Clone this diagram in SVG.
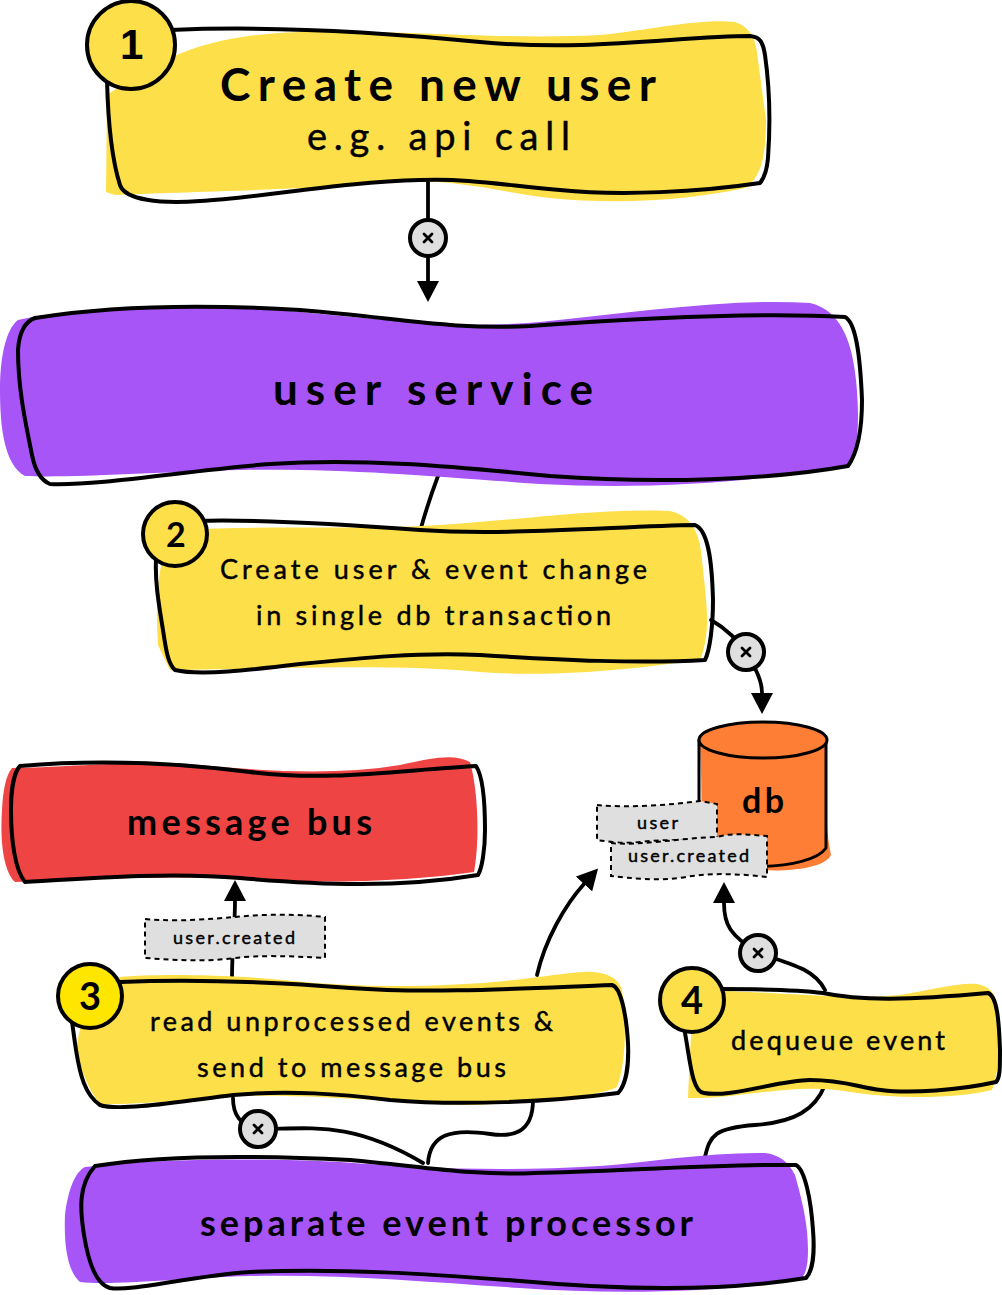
<svg xmlns="http://www.w3.org/2000/svg" width="1002" height="1295" viewBox="0 0 1002 1295">
<style>
text{font-family:"Lato","Noto Sans",sans-serif;fill:#000;text-anchor:start}
.b{font-weight:700}
.m{stroke:#000;stroke-width:.45}
.ol{fill:none;stroke:#000;stroke-width:4;stroke-linecap:round;stroke-linejoin:round}
.y{fill:#fddf49}.p{fill:#a855f7}.r{fill:#ef4444}.o{fill:#fe7e35}
.c{fill:none;stroke:#000;stroke-width:3.8;stroke-linecap:round}
.x{fill:#dfdfdf;stroke:#000;stroke-width:4}
.xm{stroke:#000;stroke-width:2.8;stroke-linecap:round}
.tag{fill:#dfdfdf;stroke:#000;stroke-width:2;stroke-dasharray:5 4}
.num{fill:#fddf49;stroke:#000;stroke-width:4}
</style>
<defs><marker id="a" markerWidth="22" markerHeight="22" refX="0" refY="11" orient="auto" markerUnits="userSpaceOnUse"><path d="M0,0L21,11L0,22Z"/></marker></defs>
<g id="connectors">
<path class="c" d="M428,182V281" marker-end="url(#a)"/>
<path class="c" d="M438,476C432,492 426,510 421,528"/>
<path class="c" d="M711,620C725,628 738,640 748,655C755,668 762,680 762,693" marker-end="url(#a)"/>
<path class="c" d="M232,977C232,950 235,925 235,901" marker-end="url(#a)"/>
<path class="c" d="M537,975C545,940 565,905 584,884" marker-end="url(#a)"/>
<path class="c" d="M233,1098C233,1115 240,1125 258,1129C310,1129 350,1120 423,1163"/>
<path class="c" d="M533,1100C533,1135 510,1137 490,1134C450,1128 430,1135 428,1163"/>
<path class="c" d="M825,990C815,970 795,965 758,953C730,935 724,925 724,903" marker-end="url(#a)"/>
<path class="c" d="M825,1085C815,1110 795,1122 755,1125C715,1128 710,1135 705,1157"/>
</g>
<g id="node-create-user">
<path class="y" d="M107,95C160,60 200,35 300,32C420,30 500,40 600,35C650,30 700,18 735,22C752,28 756,40 758,60L766,120C766,160 760,178 745,188C690,200 620,205 550,198C500,192 450,178 400,182C300,190 180,192 115,195L106,192Z"/>
<path class="ol" d="M170,30C260,26 360,30 480,42C590,52 680,36 750,36C760,37 763,42 765,55C770,90 770,130 768,158C767,170 764,178 760,183C700,192 620,196 560,190C510,186 470,178 420,180C340,182 260,198 200,201C160,204 125,200 120,185C112,160 108,120 107,80"/>
<circle class="num" cx="131" cy="45" r="44"/>
<text x="120" y="59" font-size="42" style="font-family:'Liberation Sans',sans-serif;font-weight:700">1</text>
<text class="b" x="220" y="101" font-size="46" textLength="436">Create new user</text>
<text class="m" x="307" y="150" font-size="38" textLength="263">e.g. api call</text>
</g>
<g id="node-user-service">
<path class="p" d="M18,320C60,310 160,302 280,310C370,318 450,330 540,322C640,312 730,298 810,303C840,310 852,340 856,380C860,420 858,450 850,465C760,482 650,490 540,484C430,476 340,468 240,470C160,472 70,478 25,476C5,465 0,430 0,390C0,360 5,330 18,320Z"/>
<path class="ol" d="M35,318C110,306 200,304 300,310C400,318 450,330 530,326C640,318 760,312 845,317C855,322 860,350 862,400C862,430 858,452 848,466C770,480 660,484 550,476C450,466 360,458 270,464C190,470 100,486 50,484C40,480 35,470 32,455C26,425 18,390 18,350C19,335 24,322 35,318Z"/>
<text class="b" x="273" y="405" font-size="44" textLength="320">user service</text>
</g>
<g id="node-transaction">
<path class="y" d="M175,530C280,525 360,530 440,525C520,520 600,508 670,511C690,516 700,530 702,560C706,600 712,630 700,660C640,668 560,678 480,672C400,664 300,668 170,670L158,645C156,610 156,580 165,550Z"/>
<path class="ol" d="M195,521C260,519 340,524 420,530C510,536 620,526 695,525C708,530 712,560 713,600C713,625 710,650 705,660C640,664 560,660 480,655C420,652 360,658 300,664C250,670 200,676 175,670C168,664 166,650 163,630C158,600 155,580 156,560"/>
<circle class="num" cx="175" cy="534" r="32"/>
<text class="b" x="166" y="547" font-size="34">2</text>
<text class="m" x="220" y="579" font-size="27" textLength="427">Create user &amp; event change</text>
<text class="m" x="256" y="625" font-size="27" textLength="355">in single db transaction</text>
</g>
<g id="node-message-bus">
<path class="r" d="M12,768C60,768 130,760 200,765C270,772 340,775 400,765C430,758 455,753 470,762C478,790 480,840 474,872C420,880 340,884 260,880C180,874 80,880 15,882C3,870 0,840 2,810C3,790 6,775 12,768Z"/>
<path class="ol" d="M20,766C90,760 170,762 250,772C330,782 400,770 476,766C482,775 485,800 485,830C485,850 482,868 478,875C400,888 320,885 240,878C170,872 90,878 25,882C15,870 11,840 11,810C11,790 14,772 20,766Z"/>
<text class="b" x="127" y="835" font-size="36" textLength="245">message bus</text>
</g>
<g id="node-db">
<path class="o" d="M700,745C720,720 810,720 827,745C825,780 824,820 831,855C825,868 790,872 760,870H700C702,830 702,790 700,745Z"/>
<path class="ol" style="stroke-width:3" d="M699,740V858C715,870 810,872 826,848V740"/>
<ellipse cx="763" cy="740" rx="64" ry="18" style="fill:#fe7e35;stroke:#000;stroke-width:3"/>
<text class="b" x="742" y="813" font-size="34" textLength="42">db</text>
</g>
<g id="tag-user">
<path class="tag" d="M597,805C630,808 670,805 700,801L717,804V841C690,842 670,838 640,842C625,844 610,842 597,840Z"/>
<text class="m" x="637" y="829" font-size="18" textLength="41">user</text>
</g>
<g id="tag-user-created-db">
<path class="tag" d="M611,843C640,846 680,838 717,837C735,832 750,835 767,836V877C740,874 710,872 680,878C655,881 630,878 611,876Z"/>
<text class="m" x="628" y="862" font-size="18" textLength="121">user.created</text>
</g>
<g id="tag-user-created-bus">
<path class="tag" d="M145,919C180,922 210,919 235,917C265,914 295,914 325,917V958C290,956 260,955 235,958C205,962 175,960 145,958Z"/>
<text class="m" x="173" y="944" font-size="18" textLength="122">user.created</text>
</g>
<g id="node-read-events">
<path class="y" d="M120,977C150,974 220,974 283,980C360,988 440,988 515,980C550,976 580,971 592,972C608,973 618,978 622,990C626,1020 627,1060 617,1087C600,1096 540,1102 477,1105C420,1106 340,1094 240,1096C190,1100 130,1105 100,1104C85,1085 78,1060 77,1047C80,1010 100,990 120,977Z"/>
<path class="ol" d="M120,982C170,980 250,980 350,988C430,994 530,988 612,985C620,987 626,1010 628,1043C629,1065 626,1085 618,1093C550,1102 460,1106 390,1100C340,1094 290,1090 233,1095C190,1100 120,1112 100,1105C85,1095 80,1075 76,1050C73,1030 72,1020 71,1015"/>
<circle cx="90" cy="996" r="32" style="fill:#ffe600;stroke:#000;stroke-width:4"/>
<text class="b" x="79" y="1010" font-size="38">3</text>
<text class="m" x="150" y="1031" font-size="27" textLength="403">read unprocessed events &amp;</text>
<text class="m" x="197" y="1077" font-size="27" textLength="309">send to message bus</text>
</g>
<g id="node-dequeue">
<path class="y" d="M700,990C780,992 840,1000 900,995C930,990 960,982 977,984C988,986 994,992 996,1000C1000,1040 1000,1070 992,1090C960,1098 900,1100 850,1092C800,1082 740,1098 700,1098H688C690,1060 690,1030 695,1010Z"/>
<path class="ol" d="M720,989C770,989 800,990 823,993C860,1001 910,1000 988,993C997,996 999,1020 1000,1050C1000,1068 1000,1078 996,1082C960,1090 910,1094 881,1090C860,1088 845,1080 810,1080C780,1080 730,1098 704,1093C692,1092 690,1060 685,1033"/>
<circle class="num" cx="692" cy="1000" r="32"/>
<text class="b" x="681" y="1014" font-size="38">4</text>
<text class="m" x="731" y="1050" font-size="27" textLength="214">dequeue event</text>
</g>
<g id="node-event-processor">
<path class="p" d="M85,1167C160,1158 260,1158 340,1162C420,1168 500,1172 600,1166C650,1162 710,1152 765,1153C782,1155 790,1165 795,1175C805,1210 808,1230 808,1250C808,1265 806,1275 800,1280C720,1292 620,1295 520,1288C430,1282 340,1274 250,1276C180,1278 110,1286 80,1282C66,1270 64,1240 65,1215C68,1190 75,1172 85,1167Z"/>
<path class="ol" d="M95,1166C170,1154 270,1156 350,1160C420,1166 470,1176 535,1173C610,1172 710,1164 796,1165C805,1170 811,1200 813,1230C815,1255 812,1272 806,1278C720,1292 620,1290 520,1281C430,1274 340,1268 250,1272C190,1276 130,1292 110,1288C95,1284 88,1260 84,1235C80,1210 78,1185 95,1166Z"/>
<text class="b" x="200" y="1236" font-size="36" textLength="493">separate event processor</text>
</g>
<g id="delays">
<g id="delay-1"><circle class="x" cx="428" cy="238" r="18"/><path class="xm" d="M424,234L432,242M432,234L424,242"/></g>
<g id="delay-2"><circle class="x" cx="746" cy="652" r="18"/><path class="xm" d="M742,648L750,656M750,648L742,656"/></g>
<g id="delay-3"><circle class="x" cx="258" cy="1129" r="18"/><path class="xm" d="M254,1125L262,1133M262,1125L254,1133"/></g>
<g id="delay-4"><circle class="x" cx="758" cy="953" r="18"/><path class="xm" d="M754,949L762,957M762,949L754,957"/></g>
</g>
</svg>
